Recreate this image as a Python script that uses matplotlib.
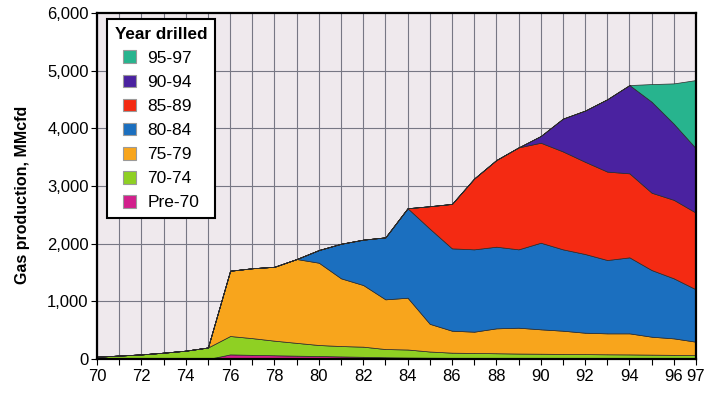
import matplotlib
matplotlib.use('Agg')
import matplotlib.pyplot as plt
from matplotlib.patches import Patch
from matplotlib.ticker import FuncFormatter

plt.rcParams['font.family'] = ['Liberation Sans', 'DejaVu Sans']

years = list(range(70, 98))

# production by vintage (year drilled), MMcfd
pre70 = [0, 0, 0, 0, 0, 0, 80, 72, 65, 58, 52, 45, 38, 30, 25, 22, 20, 19, 18, 17,
         16, 15, 14, 13, 12, 12, 11, 10]
y70_74 = [40, 60, 80, 110, 145, 200, 319, 290, 253, 222, 191, 180, 176, 143, 140, 108,
          90, 86, 82, 78, 76, 73, 71, 69, 68, 64, 61, 58]
y75_79 = [0, 0, 0, 0, 0, 0, 1132, 1212, 1282, 1454, 1427, 1174, 1069, 862, 898, 480,
          381, 369, 432, 448, 423, 403, 371, 363, 365, 311, 286, 232]
y80_84 = [0, 0, 0, 0, 0, 0, 0, 0, 0, 0, 220, 600, 787, 1075, 1552, 1650,
          1428, 1428, 1416, 1359, 1502, 1411, 1365, 1272, 1318, 1156, 1041, 908]
y85_89 = [0] * 15 + [390, 771, 1228, 1503, 1768, 1734, 1698, 1599, 1533, 1457, 1341, 1361, 1329]
y90_94 = [0] * 20 + [116, 569, 889, 1255, 1531, 1578, 1320, 1116]
y95_97 = [0] * 25 + [306, 700, 1185]

labels = ['Pre-70', '70-74', '75-79', '80-84', '85-89', '90-94', '95-97']
colors = ['#d21f8c', '#8fd023', '#f8a51c', '#1b6fbf', '#f42a12', '#4a22a0', '#27b48e']
series = [pre70, y70_74, y75_79, y80_84, y85_89, y90_94, y95_97]

fig = plt.figure(figsize=(7.17, 3.95), dpi=100)
fig.patch.set_facecolor('white')
ax = fig.add_axes([0.1353, 0.0911, 0.8354, 0.8759])
ax.set_facecolor('#efe9ed')

ax.stackplot(years, *series, colors=colors, edgecolor='#2a2a2a', linewidth=0.5, zorder=2)

ax.set_xlim(70, 97)
ax.set_ylim(0, 6000)

# grid at every year and every 1,000
for yr in years:
    ax.axvline(yr, color='#777784', linewidth=0.8, zorder=1)
for v in range(1000, 6000, 1000):
    ax.axhline(v, color='#777784', linewidth=0.8, zorder=1)

ax.set_xticks(years)
ax.set_xticklabels([str(y) if (y % 2 == 0 or y == 97) else '' for y in years], fontsize=12)
ax.set_yticks(range(0, 6001, 1000))
ax.yaxis.set_major_formatter(FuncFormatter(lambda v, p: f'{int(v):,}'))
ax.tick_params(axis='y', labelsize=12, length=4, width=0.8, pad=2)
ax.tick_params(axis='x', length=4, width=0.8, pad=3)

for s in ax.spines.values():
    s.set_linewidth(1.6)
    s.set_color('black')
    s.set_zorder(5)

ax.set_ylabel('Gas production, MMcfd', fontsize=11.5, fontweight='bold')
ax.yaxis.set_label_coords(-0.112, 0.474)

handles = [Patch(facecolor=c, edgecolor='#9a9a9a', linewidth=0.8) for c in colors]
leg = ax.legend(handles[::-1], labels[::-1], loc='upper left', bbox_to_anchor=(0.0167, 0.983),
                title='Year drilled', fontsize=12.5, title_fontproperties={'weight': 'bold', 'size': 12.3},
                frameon=True, fancybox=False, framealpha=1, edgecolor='black',
                handlelength=0.75, handleheight=0.75, handletextpad=0.65, labelspacing=0.5,
                borderpad=0.45, borderaxespad=0)
leg.get_frame().set_linewidth(1.5)
leg.set_zorder(6)

fig.savefig('out.png', dpi=100)
